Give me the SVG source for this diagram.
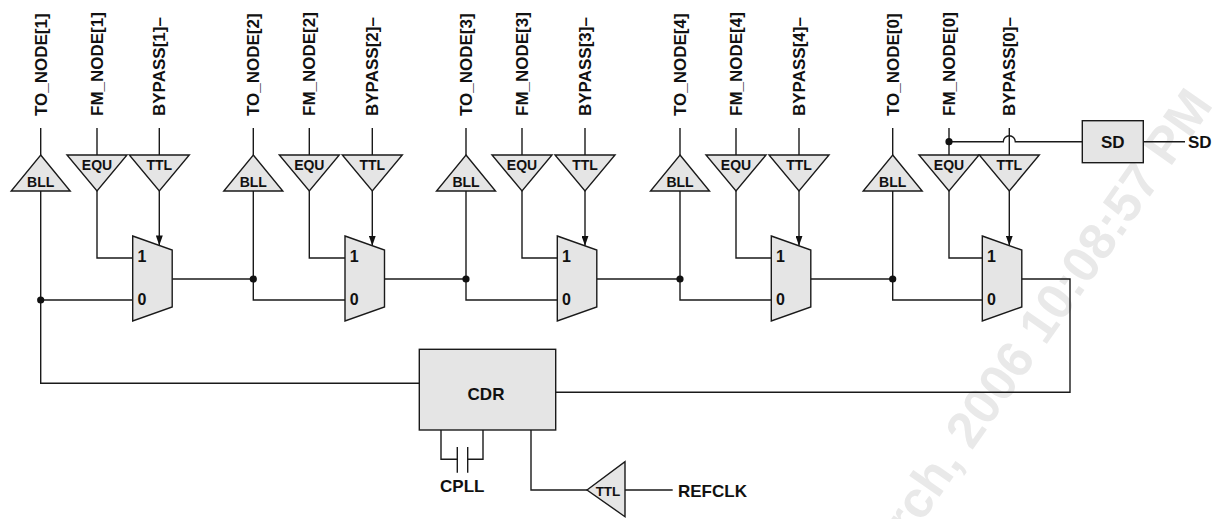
<svg xmlns="http://www.w3.org/2000/svg" width="1218" height="519" viewBox="0 0 1218 519">
<defs>
<style>
.w{fill:none;stroke:#1a1a1a;stroke-width:1.4}
.sh{fill:#e5e5e5;stroke:#1a1a1a;stroke-width:1.4;stroke-linejoin:miter}
.t{font-family:"Liberation Sans",Arial,sans-serif;font-weight:bold;fill:#111}
.v{font-size:17px}
.s{font-size:14px;text-anchor:middle}
.d{font-size:16px}
.l{font-size:17px}
.c{font-size:17px;text-anchor:middle}
.dot{fill:#111}
.wm{font-family:"Liberation Sans",Arial,sans-serif;font-weight:bold;font-size:51px;fill:#e9e9e9}
</style>
<marker id="ah" markerUnits="userSpaceOnUse" markerWidth="10" markerHeight="7" refX="10" refY="3.5" orient="auto">
<path d="M0,0 L10,3.5 L0,7 Z" fill="#111"/>
</marker>
</defs>
<rect width="1218" height="519" fill="#fff"/>
<text class="wm" text-anchor="end" transform="translate(1214,105) rotate(-55)">rch, 2006 10:08:57 PM</text>

<g id="connectors">
<!-- stage 1 -->
<path class="w" d="M40.7,128 V155 M97,128 V155 M159.3,128 V155"/>
<path class="w" d="M40.7,191 V383.3 H419.3 M40.7,300 H132.7 M97,191 V258 H132.7"/>
<path class="w" d="M159.3,191 V245.4" marker-end="url(#ah)"/>
<path class="w" d="M172.2,279 H253.3"/>
<!-- stage 2 -->
<path class="w" d="M253.3,128 V155 M309.3,128 V155 M372.3,128 V155"/>
<path class="w" d="M253.3,191 V300 H345 M309.3,191 V258 H345"/>
<path class="w" d="M372.3,191 V245.7" marker-end="url(#ah)"/>
<path class="w" d="M384.5,279 H466"/>
<!-- stage 3 -->
<path class="w" d="M466,128 V155 M522,128 V155 M585,128 V155"/>
<path class="w" d="M466,191 V300 H557.3 M522,191 V258 H557.3"/>
<path class="w" d="M585,191 V245.8" marker-end="url(#ah)"/>
<path class="w" d="M596.8,279 H680"/>
<!-- stage 4 -->
<path class="w" d="M680,128 V155 M736,128 V155 M799,128 V155"/>
<path class="w" d="M680,191 V300 H771.3 M736,191 V258 H771.3"/>
<path class="w" d="M799,191 V245.8" marker-end="url(#ah)"/>
<path class="w" d="M810.8,279 H892.7"/>
<!-- stage 0 -->
<path class="w" d="M892.7,128 V155 M949,128 V155 M1009.3,128 V155"/>
<path class="w" d="M892.7,191 V300 H982.3 M949,191 V258 H982.3"/>
<path class="w" d="M1009.3,191 V245.6" marker-end="url(#ah)"/>
<path class="w" d="M1021.8,279 H1070 V392.3 H555.7"/>
<!-- SD -->
<path class="w" d="M949,141.7 H1003.3 A6,6 0 0 1 1015.3,141.7 H1082.3 M1143.3,141.7 H1185"/>
<!-- CPLL -->
<path class="w" d="M441,430 V459.3 H457.3 M467.7,459.3 H483 V430 M457.3,447 V472.7 M467.7,447 V472.7"/>
<!-- REFCLK -->
<path class="w" d="M531,430 V490 H587 M625,490 H672.7"/>
<!-- junctions -->
<circle class="dot" cx="40.7" cy="300" r="3.6"/>
<circle class="dot" cx="253.3" cy="279" r="3.6"/>
<circle class="dot" cx="466" cy="279" r="3.6"/>
<circle class="dot" cx="680" cy="279" r="3.6"/>
<circle class="dot" cx="892.7" cy="279" r="3.6"/>
<circle class="dot" cx="949" cy="141.7" r="3.6"/>
</g>

<g id="stage1">
<text class="t v" transform="translate(46.7,116) rotate(-90)">TO_NODE[1]</text>
<text class="t v" transform="translate(103,116) rotate(-90)">FM_NODE[1]</text>
<text class="t v" transform="translate(165.3,116) rotate(-90)">BYPASS[1]–</text>
<path class="sh" d="M40.7,155 L70.2,191 L11.2,191 Z"/><text class="t s" x="40.7" y="187">BLL</text>
<path class="sh" d="M67,155 L127,155 L97,191 Z"/><text class="t s" x="97" y="170">EQU</text>
<path class="sh" d="M129.3,155 L189.3,155 L159.3,191 Z"/><text class="t s" x="159.3" y="170">TTL</text>
<path class="sh" d="M132.7,236 L172.2,250 L172.2,307 L132.7,321 Z"/>
<text class="t d" x="137.5" y="262">1</text><text class="t d" x="137.5" y="304.5">0</text>
</g>

<g id="stage2">
<text class="t v" transform="translate(259.3,116) rotate(-90)">TO_NODE[2]</text>
<text class="t v" transform="translate(315.3,116) rotate(-90)">FM_NODE[2]</text>
<text class="t v" transform="translate(378.3,116) rotate(-90)">BYPASS[2]–</text>
<path class="sh" d="M253.3,155 L282.8,191 L223.8,191 Z"/><text class="t s" x="253.3" y="187">BLL</text>
<path class="sh" d="M279.3,155 L339.3,155 L309.3,191 Z"/><text class="t s" x="309.3" y="170">EQU</text>
<path class="sh" d="M342.3,155 L402.3,155 L372.3,191 Z"/><text class="t s" x="372.3" y="170">TTL</text>
<path class="sh" d="M345,236 L384.5,250 L384.5,307 L345,321 Z"/>
<text class="t d" x="349.8" y="262">1</text><text class="t d" x="349.8" y="304.5">0</text>
</g>

<g id="stage3">
<text class="t v" transform="translate(472,116) rotate(-90)">TO_NODE[3]</text>
<text class="t v" transform="translate(528,116) rotate(-90)">FM_NODE[3]</text>
<text class="t v" transform="translate(591,116) rotate(-90)">BYPASS[3]–</text>
<path class="sh" d="M466,155 L495.5,191 L436.5,191 Z"/><text class="t s" x="466" y="187">BLL</text>
<path class="sh" d="M492,155 L552,155 L522,191 Z"/><text class="t s" x="522" y="170">EQU</text>
<path class="sh" d="M555,155 L615,155 L585,191 Z"/><text class="t s" x="585" y="170">TTL</text>
<path class="sh" d="M557.3,236 L596.8,250 L596.8,307 L557.3,321 Z"/>
<text class="t d" x="562.1" y="262">1</text><text class="t d" x="562.1" y="304.5">0</text>
</g>

<g id="stage4">
<text class="t v" transform="translate(686,116) rotate(-90)">TO_NODE[4]</text>
<text class="t v" transform="translate(742,116) rotate(-90)">FM_NODE[4]</text>
<text class="t v" transform="translate(805,116) rotate(-90)">BYPASS[4]–</text>
<path class="sh" d="M680,155 L709.5,191 L650.5,191 Z"/><text class="t s" x="680" y="187">BLL</text>
<path class="sh" d="M706,155 L766,155 L736,191 Z"/><text class="t s" x="736" y="170">EQU</text>
<path class="sh" d="M769,155 L829,155 L799,191 Z"/><text class="t s" x="799" y="170">TTL</text>
<path class="sh" d="M771.3,236 L810.8,250 L810.8,307 L771.3,321 Z"/>
<text class="t d" x="776.1" y="262">1</text><text class="t d" x="776.1" y="304.5">0</text>
</g>

<g id="stage0">
<text class="t v" transform="translate(898.7,116) rotate(-90)">TO_NODE[0]</text>
<text class="t v" transform="translate(955,116) rotate(-90)">FM_NODE[0]</text>
<text class="t v" transform="translate(1015.3,116) rotate(-90)">BYPASS[0]–</text>
<path class="sh" d="M892.7,155 L922.2,191 L863.2,191 Z"/><text class="t s" x="892.7" y="187">BLL</text>
<path class="sh" d="M919,155 L979,155 L949,191 Z"/><text class="t s" x="949" y="170">EQU</text>
<path class="sh" d="M979.3,155 L1039.3,155 L1009.3,191 Z"/><text class="t s" x="1009.3" y="170">TTL</text>
<path class="sh" d="M982.3,236 L1021.8,250 L1021.8,307 L982.3,321 Z"/>
<text class="t d" x="987.1" y="262">1</text><text class="t d" x="987.1" y="304.5">0</text>
</g>

<g id="sd">
<rect class="sh" x="1082.3" y="120.7" width="61" height="42"/>
<text class="t c" x="1112.8" y="147.8">SD</text>
<text class="t l" x="1188" y="147.8">SD</text>
</g>

<g id="cdr">
<rect class="sh" x="419.3" y="349.3" width="136.4" height="80.7"/>
<text class="t c" x="486" y="400">CDR</text>
</g>

<g id="cpll">
<text class="t c" x="462.3" y="491.5">CPLL</text>
</g>

<g id="refclk">
<path class="sh" d="M587,490 L625,461.7 L625,516.7 Z"/>
<text class="t" style="font-size:13.5px;text-anchor:middle" x="608" y="496">TTL</text>
<text class="t l" x="678" y="496.5">REFCLK</text>
</g>
</svg>
